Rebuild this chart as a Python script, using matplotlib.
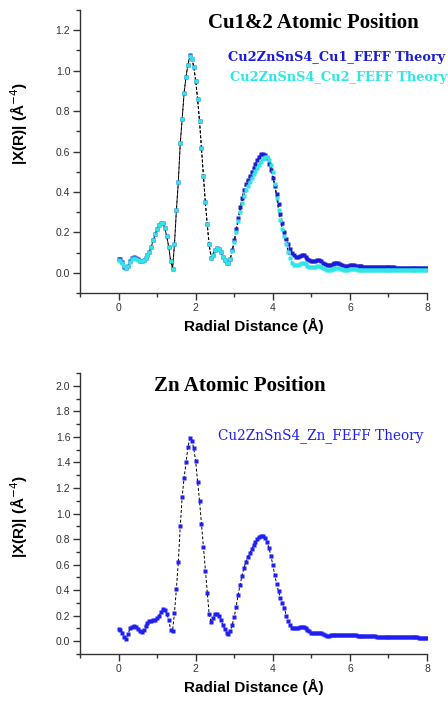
import matplotlib
matplotlib.use("Agg")
import matplotlib.pyplot as plt
from matplotlib.ticker import MultipleLocator

# ---------------- data ----------------
r = [0.00, 0.05, 0.10, 0.15, 0.20, 0.25, 0.30, 0.35, 0.40, 0.45,
     0.50, 0.55, 0.60, 0.65, 0.70, 0.75, 0.80, 0.85, 0.90, 0.95,
     1.00, 1.05, 1.10, 1.15, 1.20, 1.25, 1.30, 1.35, 1.40, 1.45,
     1.50, 1.55, 1.60, 1.65, 1.70, 1.75, 1.80, 1.85, 1.90, 1.95,
     2.00, 2.05, 2.10, 2.15, 2.20, 2.25, 2.30, 2.35, 2.40, 2.45,
     2.50, 2.55, 2.60, 2.65, 2.70, 2.75, 2.80, 2.85, 2.90, 2.95,
     3.00, 3.05, 3.10, 3.15, 3.20, 3.25, 3.30, 3.35, 3.40, 3.45,
     3.50, 3.55, 3.60, 3.65, 3.70, 3.75, 3.80, 3.85, 3.90, 3.95,
     4.00, 4.05, 4.10, 4.15, 4.20, 4.25, 4.30, 4.35, 4.40, 4.45,
     4.50, 4.55, 4.60, 4.65, 4.70, 4.75, 4.80, 4.85, 4.90, 4.95,
     5.00, 5.05, 5.10, 5.15, 5.20, 5.25, 5.30, 5.35, 5.40, 5.45,
     5.50, 5.55, 5.60, 5.65, 5.70, 5.75, 5.80, 5.85, 5.90, 5.95,
     6.00, 6.05, 6.10, 6.15, 6.20, 6.25, 6.30, 6.35, 6.40, 6.45,
     6.50, 6.55, 6.60, 6.65, 6.70, 6.75, 6.80, 6.85, 6.90, 6.95,
     7.00, 7.05, 7.10, 7.15, 7.20, 7.25, 7.30, 7.35, 7.40, 7.45,
     7.50, 7.55, 7.60, 7.65, 7.70, 7.75, 7.80, 7.85, 7.90, 7.95,
     8.00]

cu1 = [0.068, 0.066, 0.055, 0.030, 0.022, 0.035, 0.060, 0.072, 0.076, 0.072,
       0.066, 0.060, 0.058, 0.062, 0.072, 0.088, 0.105, 0.130, 0.160, 0.190,
       0.215, 0.235, 0.248, 0.245, 0.220, 0.180, 0.130, 0.060, 0.020, 0.140,
       0.310, 0.450, 0.640, 0.760, 0.890, 0.970, 1.030, 1.075, 1.060, 1.020,
       0.950, 0.860, 0.750, 0.615, 0.480, 0.350, 0.240, 0.140, 0.075, 0.090,
       0.115, 0.125, 0.120, 0.105, 0.080, 0.062, 0.050, 0.048, 0.070, 0.115,
       0.160, 0.215, 0.270, 0.325, 0.370, 0.410, 0.440, 0.460, 0.480, 0.500,
       0.520, 0.540, 0.560, 0.575, 0.588, 0.590, 0.585, 0.570, 0.540, 0.510,
       0.470, 0.430, 0.390, 0.340, 0.290, 0.245, 0.200, 0.165, 0.140, 0.120,
       0.100, 0.088, 0.080, 0.080, 0.085, 0.090, 0.088, 0.080, 0.070, 0.062,
       0.057, 0.056, 0.058, 0.063, 0.064, 0.058, 0.050, 0.044, 0.040, 0.038,
       0.040, 0.044, 0.047, 0.048, 0.046, 0.042, 0.038, 0.035, 0.034, 0.035,
       0.037, 0.038, 0.037, 0.035, 0.033, 0.032, 0.032, 0.031, 0.031, 0.031,
       0.030, 0.030, 0.030, 0.029, 0.029, 0.029, 0.028, 0.028, 0.028, 0.028,
       0.027, 0.027, 0.027, 0.027, 0.026, 0.026, 0.026, 0.026, 0.025, 0.025,
       0.025, 0.025, 0.024, 0.024, 0.024, 0.024, 0.023, 0.023, 0.023, 0.022,
       0.022]

cu2 = [0.062, 0.058, 0.048, 0.032, 0.025, 0.035, 0.055, 0.068, 0.072, 0.068,
       0.062, 0.057, 0.056, 0.062, 0.072, 0.088, 0.105, 0.130, 0.160, 0.190,
       0.215, 0.235, 0.248, 0.245, 0.220, 0.180, 0.130, 0.060, 0.020, 0.140,
       0.310, 0.450, 0.640, 0.760, 0.890, 0.970, 1.030, 1.070, 1.060, 1.020,
       0.950, 0.860, 0.750, 0.615, 0.480, 0.350, 0.240, 0.140, 0.075, 0.090,
       0.115, 0.125, 0.120, 0.105, 0.080, 0.062, 0.050, 0.048, 0.070, 0.110,
       0.150, 0.200, 0.255, 0.300, 0.345, 0.380, 0.410, 0.430, 0.450, 0.470,
       0.490, 0.505, 0.520, 0.535, 0.550, 0.565, 0.575, 0.575, 0.560, 0.535,
       0.500, 0.440, 0.370, 0.310, 0.260, 0.215, 0.180, 0.140, 0.105, 0.075,
       0.050, 0.040, 0.038, 0.040, 0.045, 0.050, 0.048, 0.042, 0.035, 0.030,
       0.028, 0.028, 0.030, 0.033, 0.034, 0.031, 0.026, 0.020, 0.016, 0.015,
       0.016, 0.020, 0.023, 0.025, 0.024, 0.020, 0.017, 0.015, 0.015, 0.016,
       0.018, 0.020, 0.020, 0.018, 0.016, 0.015, 0.015, 0.016, 0.015, 0.015,
       0.015, 0.015, 0.016, 0.015, 0.015, 0.015, 0.015, 0.015, 0.015, 0.015,
       0.015, 0.015, 0.015, 0.015, 0.015, 0.015, 0.015, 0.015, 0.015, 0.015,
       0.015, 0.015, 0.015, 0.015, 0.015, 0.015, 0.015, 0.015, 0.015, 0.015,
       0.015]

zn = [0.092, 0.085, 0.065, 0.030, 0.020, 0.060, 0.100, 0.115, 0.120, 0.110,
      0.094, 0.080, 0.072, 0.090, 0.120, 0.140, 0.155, 0.160, 0.165, 0.170,
      0.180, 0.200, 0.225, 0.250, 0.245, 0.215, 0.170, 0.090, 0.080, 0.220,
      0.410, 0.620, 0.900, 1.130, 1.280, 1.400, 1.520, 1.590, 1.570, 1.510,
      1.410, 1.250, 1.100, 0.920, 0.740, 0.550, 0.380, 0.210, 0.150, 0.185,
      0.210, 0.210, 0.200, 0.170, 0.130, 0.095, 0.065, 0.055, 0.080, 0.130,
      0.190, 0.270, 0.360, 0.440, 0.510, 0.570, 0.620, 0.660, 0.690, 0.720,
      0.750, 0.775, 0.800, 0.815, 0.825, 0.825, 0.810, 0.780, 0.730, 0.670,
      0.600, 0.520, 0.450, 0.390, 0.340, 0.300, 0.260, 0.200, 0.160, 0.130,
      0.105, 0.100, 0.100, 0.105, 0.110, 0.110, 0.108, 0.100, 0.090, 0.078,
      0.068, 0.063, 0.063, 0.067, 0.068, 0.062, 0.055, 0.048, 0.042, 0.042,
      0.046, 0.050, 0.052, 0.050, 0.047, 0.045, 0.045, 0.046, 0.047, 0.045,
      0.045, 0.050, 0.052, 0.048, 0.044, 0.042, 0.041, 0.041, 0.040, 0.040,
      0.039, 0.039, 0.038, 0.038, 0.037, 0.037, 0.036, 0.036, 0.035, 0.035,
      0.035, 0.034, 0.034, 0.033, 0.033, 0.033, 0.032, 0.032, 0.032, 0.031,
      0.031, 0.031, 0.030, 0.030, 0.030, 0.030, 0.029, 0.029, 0.029, 0.029,
      0.029]

top_title = "Cu1&2 Atomic Position"
bot_title = "Zn Atomic Position"
cu1_label = "Cu2ZnSnS4_Cu1_FEFF Theory"
cu2_label = "Cu2ZnSnS4_Cu2_FEFF Theory"
zn_label = "Cu2ZnSnS4_Zn_FEFF Theory"
xlabel = "Radial Distance (Å)"
ylabel = "|X(R)| (Å$^{-4}$)"

# ---------------- style ----------------
C_CU1 = "#1c1cd6"
C_CU2 = "#2ee6e6"
C_ZN = "#1f1ff5"

plt.rcParams["font.family"] = ["Liberation Sans", "DejaVu Sans"]

fig = plt.figure(figsize=(4.48, 7.06), dpi=100)
ax1 = fig.add_axes([80/448, 1-293/706, (427-80)/448, (293-10)/706])
ax2 = fig.add_axes([80/448, 1-654/706, (427-80)/448, (654-373)/706])


def style_axes(ax, ylim):
    ax.set_xlim(-1, 8)
    ax.set_ylim(*ylim)
    for s in ("top", "right"):
        ax.spines[s].set_visible(False)
    for s in ("left", "bottom"):
        ax.spines[s].set_linewidth(1.0)
        ax.spines[s].set_color("#333333")
    ax.xaxis.set_major_locator(MultipleLocator(2))
    ax.xaxis.set_minor_locator(MultipleLocator(1))
    ax.yaxis.set_major_locator(MultipleLocator(0.2))
    ax.yaxis.set_minor_locator(MultipleLocator(0.1))
    ax.tick_params(which="major", direction="out", length=5, width=1,
                   labelsize=7.5, colors="#333333", pad=2)
    ax.tick_params(which="minor", direction="out", length=3, width=1,
                   colors="#333333")
    ax.yaxis.set_major_formatter(plt.FuncFormatter(lambda v, p: f"{v:.1f}"))
    ax.xaxis.set_major_formatter(plt.FuncFormatter(lambda v, p: f"{v:.0f}"))
    ax.set_xlabel(xlabel, fontsize=11, fontweight="bold", labelpad=4)
    ax.set_ylabel(ylabel, fontsize=11, fontweight="bold")


def draw(ax, x, y, color):
    ax.plot(x, y, color="black", lw=0.7, ls=(0, (3, 2)), zorder=2)
    ax.plot(x, y, ls="none", marker="s", ms=3.2, mec="none", mfc=color, zorder=3)


draw(ax1, r, cu1, C_CU1)
draw(ax1, r, cu2, C_CU2)
style_axes(ax1, (-0.1, 1.3))
ax1.yaxis.set_label_coords(-0.145, 0.6)

draw(ax2, r, zn, C_ZN)
style_axes(ax2, (-0.1, 2.1))
ax2.yaxis.set_label_coords(-0.145, 0.49)

serif = ["Liberation Serif", "DejaVu Serif"]
fig.text(313/448, 1-23/706, top_title, ha="center", va="center",
         fontsize=15, fontweight="bold", family=serif)
fig.text(240/448, 1-386/706, bot_title, ha="center", va="center",
         fontsize=15, fontweight="bold", family=serif)

fig.text(228/448, 1-58/706, cu1_label, ha="left", va="center",
         fontsize=9.3, fontweight="bold", color=C_CU1, family=["DejaVu Serif"])
fig.text(230/448, 1-78/706, cu2_label, ha="left", va="center",
         fontsize=9.3, fontweight="bold", color=C_CU2, family=["DejaVu Serif"])
fig.text(218/448, 1-436/706, zn_label, ha="left", va="center",
         fontsize=9.8, color=C_ZN, family=["DejaVu Serif"])

fig.savefig("out.png", dpi=100)
